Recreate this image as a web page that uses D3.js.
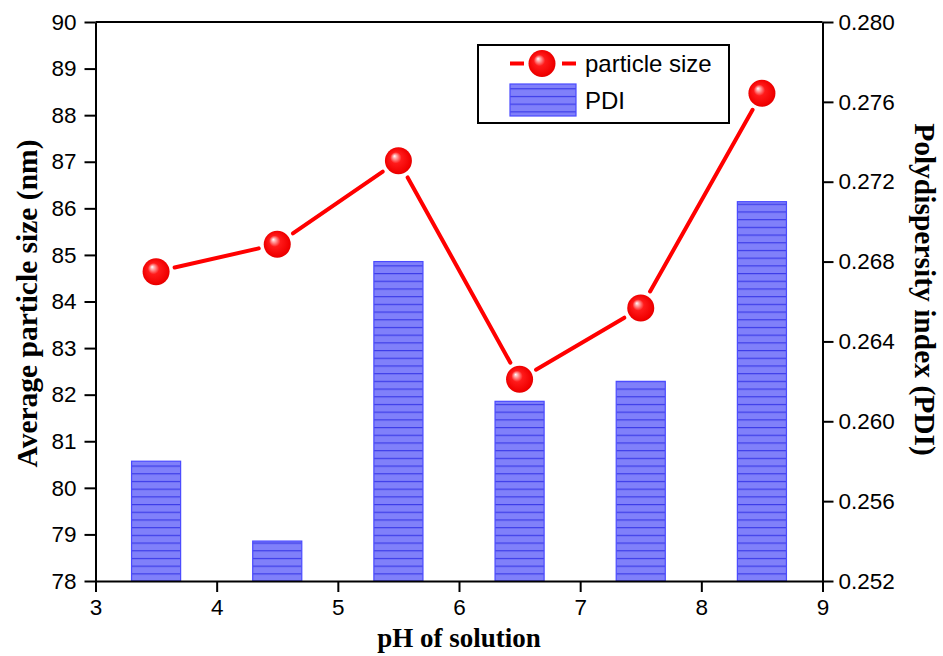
<!DOCTYPE html>
<html>
<head>
<meta charset="utf-8">
<script src="https://cdn.jsdelivr.net/npm/d3@7"></script>
<style>
  html, body { margin: 0; padding: 0; background: #ffffff; }
  svg { display: block; }
</style>
</head>
<body>
<svg id="chart" width="943" height="656"></svg>
<script>
// pH values at which the samples were measured
const phValues = [3.5, 4.5, 5.5, 6.5, 7.5, 8.5];
// Average particle size (nm), left axis
const particleSize = [84.64, 85.23, 87.02, 82.33, 83.86, 88.47];
// Polydispersity index, right axis
const pdiValues = [0.258, 0.254, 0.268, 0.261, 0.262, 0.271];
// Tick labels
const xTicks = [3, 4, 5, 6, 7, 8, 9];
const yLeftTicks = [78, 79, 80, 81, 82, 83, 84, 85, 86, 87, 88, 89, 90];
const yRightTicks = [0.252, 0.256, 0.260, 0.264, 0.268, 0.272, 0.276, 0.280];

const svg = d3.select("#chart");
const plot = { left: 95.5, right: 822.5, top: 22, bottom: 581 };

const x = d3.scaleLinear().domain([3, 9]).range([plot.left, plot.right]);
const yL = d3.scaleLinear().domain([78, 90]).range([plot.bottom, plot.top]);
const yR = d3.scaleLinear().domain([0.252, 0.280]).range([plot.bottom, plot.top]);

const defs = svg.append("defs");

// Horizontal hatching used inside the PDI bars
const pat = defs.append("pattern")
  .attr("id", "hatch")
  .attr("patternUnits", "userSpaceOnUse")
  .attr("width", 10).attr("height", 7.7)
  .attr("y", plot.bottom);
pat.append("rect").attr("width", 10).attr("height", 7.7).attr("fill", "#8080fa");
pat.append("line").attr("x1", 0).attr("x2", 10).attr("y1", 0.6).attr("y2", 0.6)
  .attr("stroke", "#3c3ce8").attr("stroke-width", 1.2);

// Glossy sphere marker
const grad = defs.append("radialGradient")
  .attr("id", "sphere")
  .attr("cx", "0.5").attr("cy", "0.5").attr("r", "0.55")
  .attr("fx", "0.35").attr("fy", "0.32");
grad.append("stop").attr("offset", "0").attr("stop-color", "#ffffff");
grad.append("stop").attr("offset", "0.12").attr("stop-color", "#ffb0b0");
grad.append("stop").attr("offset", "0.38").attr("stop-color", "#ff1a1a");
grad.append("stop").attr("offset", "0.85").attr("stop-color", "#f00000");
grad.append("stop").attr("offset", "1").attr("stop-color", "#d80000");

// Bars (PDI)
const barW = x(3.405) - x(3);
svg.append("g").selectAll("rect")
  .data(phValues.map((p, i) => ({ p, v: pdiValues[i] })))
  .join("rect")
  .attr("x", d => x(d.p) - barW / 2)
  .attr("y", d => yR(d.v))
  .attr("width", barW)
  .attr("height", d => plot.bottom - yR(d.v))
  .attr("fill", "url(#hatch)")
  .attr("stroke", "#4a4aff")
  .attr("stroke-width", 1.2);

// Particle size line, drawn as segments with a gap around each marker
const pts = phValues.map((p, i) => [x(p), yL(particleSize[i])]);
const markerR = 13.5, gap = 19;
const segs = [];
for (let i = 0; i < pts.length - 1; i++) {
  const [x1, y1] = pts[i], [x2, y2] = pts[i + 1];
  const len = Math.hypot(x2 - x1, y2 - y1);
  const ux = (x2 - x1) / len, uy = (y2 - y1) / len;
  segs.push([x1 + ux * gap, y1 + uy * gap, x2 - ux * gap, y2 - uy * gap]);
}
svg.append("g").selectAll("line")
  .data(segs)
  .join("line")
  .attr("x1", d => d[0]).attr("y1", d => d[1])
  .attr("x2", d => d[2]).attr("y2", d => d[3])
  .attr("stroke", "#ff0000")
  .attr("stroke-width", 4)
  .attr("stroke-linecap", "round");

svg.append("g").selectAll("circle")
  .data(pts)
  .join("circle")
  .attr("cx", d => d[0]).attr("cy", d => d[1])
  .attr("r", markerR)
  .attr("fill", "url(#sphere)");

// Axes
const tickFont = "'Liberation Sans', Arial, sans-serif";
function styleAxis(g) {
  g.selectAll(".domain").attr("stroke", "#000").attr("stroke-width", 2);
  g.selectAll(".tick line").attr("stroke", "#000").attr("stroke-width", 2);
  g.selectAll(".tick text").attr("fill", "#000")
    .style("font-family", tickFont).style("font-size", "22.5px");
}

const gx = svg.append("g")
  .attr("transform", `translate(0,${plot.bottom})`)
  .call(d3.axisBottom(x).tickValues(xTicks).tickFormat(d3.format("d"))
    .tickSizeInner(11).tickSizeOuter(0).tickPadding(7));
styleAxis(gx);

const gl = svg.append("g")
  .attr("transform", `translate(${plot.left},0)`)
  .call(d3.axisLeft(yL).tickValues(yLeftTicks).tickFormat(d3.format("d"))
    .tickSizeInner(11).tickSizeOuter(0).tickPadding(8));
styleAxis(gl);

const gr = svg.append("g")
  .attr("transform", `translate(${plot.right},0)`)
  .call(d3.axisRight(yR).tickValues(yRightTicks).tickFormat(d3.format(".3f"))
    .tickSizeInner(11).tickSizeOuter(0).tickPadding(5));
styleAxis(gr);

// Top frame line
svg.append("line")
  .attr("x1", plot.left).attr("x2", plot.right)
  .attr("y1", plot.top).attr("y2", plot.top)
  .attr("stroke", "#000").attr("stroke-width", 2);

// Axis titles
const titleFont = "'Liberation Serif', 'Times New Roman', serif";
svg.append("text")
  .attr("x", (plot.left + plot.right) / 2).attr("y", 647)
  .attr("text-anchor", "middle")
  .style("font-family", titleFont).style("font-weight", "bold").style("font-size", "27px")
  .text("pH of solution");

svg.append("text")
  .attr("transform", `translate(37,${(plot.top + plot.bottom) / 2 + 2}) rotate(-90)`)
  .attr("text-anchor", "middle")
  .style("font-family", titleFont).style("font-weight", "bold").style("font-size", "29.5px")
  .text("Average particle size (nm)");

svg.append("text")
  .attr("transform", `translate(915,${(plot.top + plot.bottom) / 2 - 12}) rotate(90)`)
  .attr("text-anchor", "middle")
  .style("font-family", titleFont).style("font-weight", "bold").style("font-size", "29.5px")
  .text("Polydispersity index (PDI)");

// Legend
const lg = svg.append("g");
lg.append("rect")
  .attr("x", 478).attr("y", 45).attr("width", 251).attr("height", 78)
  .attr("fill", "#fff").attr("stroke", "#000").attr("stroke-width", 2);
lg.append("line")
  .attr("x1", 510).attr("x2", 576).attr("y1", 63.5).attr("y2", 63.5)
  .attr("stroke", "#ff0000").attr("stroke-width", 4).attr("stroke-dasharray", "14,38");
lg.append("circle").attr("cx", 542).attr("cy", 63.5).attr("r", markerR)
  .attr("fill", "url(#sphere)");
lg.append("rect")
  .attr("x", 510).attr("y", 84).attr("width", 66).attr("height", 32)
  .attr("fill", "url(#hatch)").attr("stroke", "#4a4aff").attr("stroke-width", 1.2);
lg.append("text").attr("x", 585).attr("y", 72)
  .style("font-family", tickFont).style("font-size", "24px").text("particle size");
lg.append("text").attr("x", 585).attr("y", 109)
  .style("font-family", tickFont).style("font-size", "24px").text("PDI");
</script>
</body>
</html>
